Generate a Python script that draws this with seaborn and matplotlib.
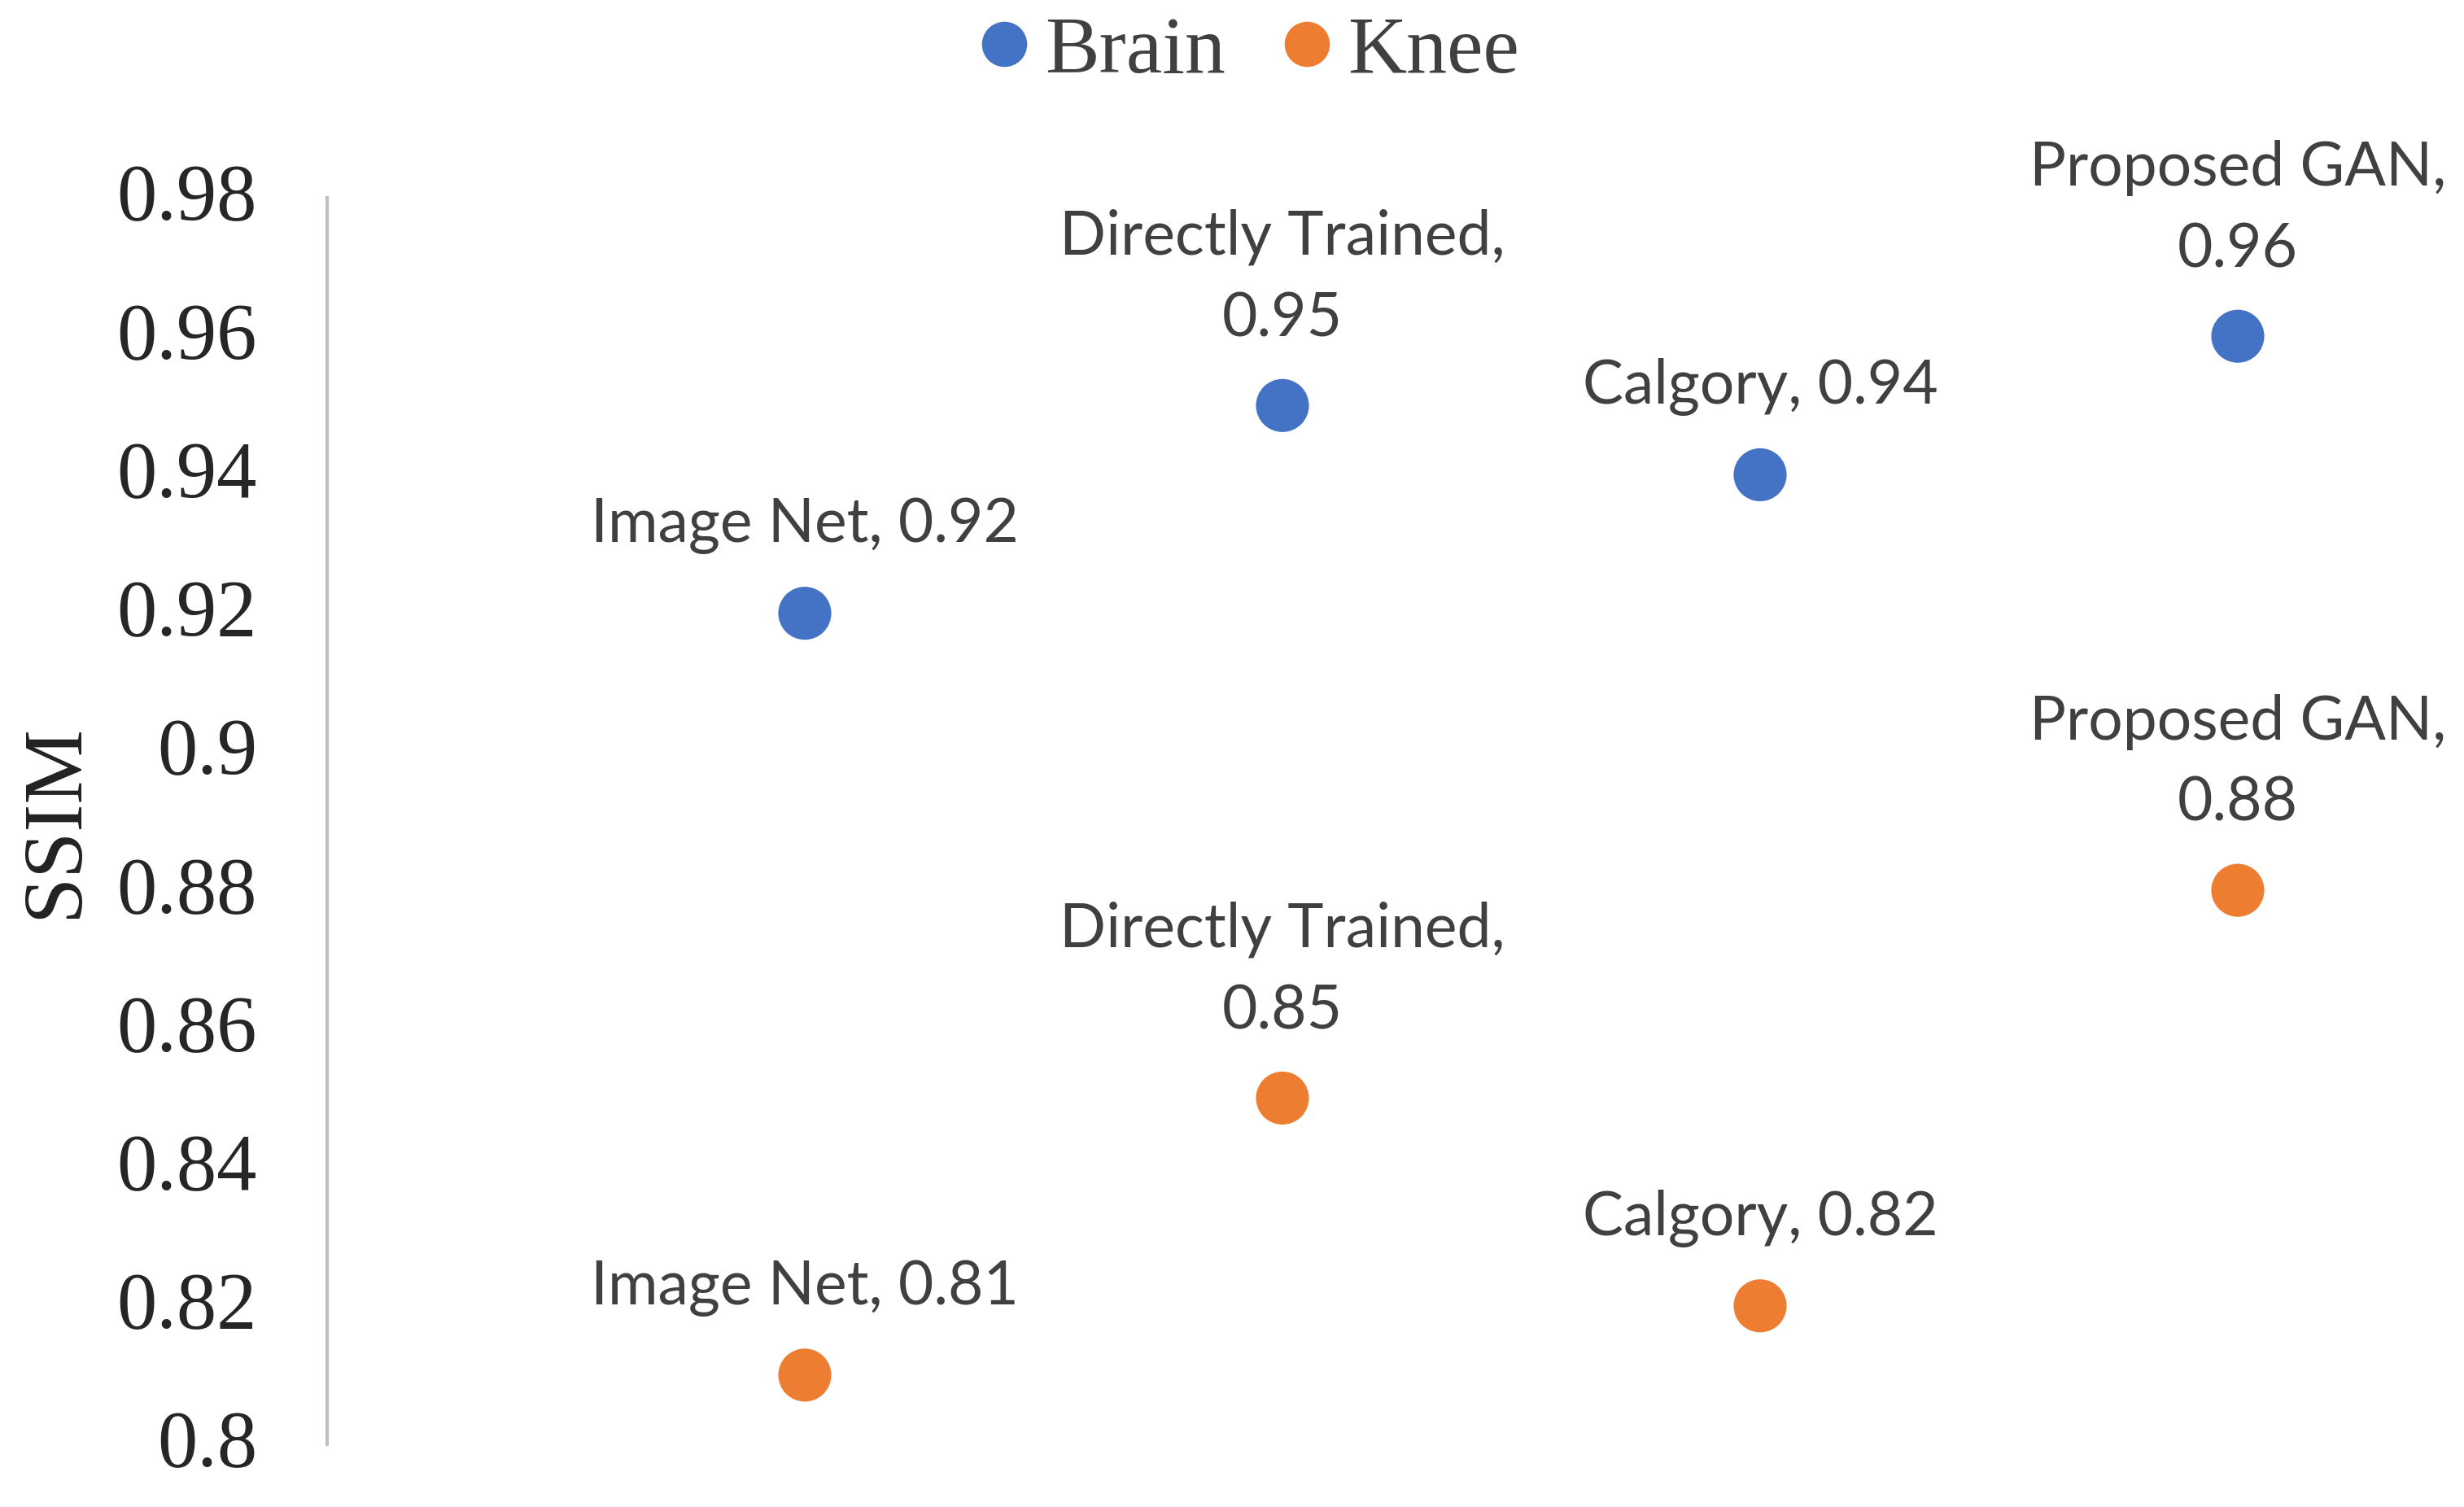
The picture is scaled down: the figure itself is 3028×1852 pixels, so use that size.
import matplotlib
matplotlib.use("Agg")
import matplotlib.pyplot as plt
import matplotlib.transforms as mtransforms
import seaborn as sns
import pandas as pd

categories = ["Image Net", "Directly Trained", "Calgory", "Proposed GAN"]
x_pos = [1, 2, 3, 4]
brain = [0.92, 0.95, 0.94, 0.96]
knee = [0.81, 0.85, 0.82, 0.88]
series = ["Brain", "Knee"]
colors = ["#4472C4", "#ED7D31"]
y_ticks = [0.8, 0.82, 0.84, 0.86, 0.88, 0.9, 0.92, 0.94, 0.96, 0.98]
y_tick_labels = ["0.8", "0.82", "0.84", "0.86", "0.88", "0.9", "0.92", "0.94", "0.96", "0.98"]

rows = []
for s, vals in zip(series, [brain, knee]):
    for c, x, v in zip(categories, x_pos, vals):
        rows.append({"Category": c, "x": x, "SSIM": v, "Series": s})
df = pd.DataFrame(rows)

sns.set_theme(style="white")
W, H = 3028, 1852
fig = plt.figure(figsize=(W / 100, H / 100), dpi=100)
ax = fig.add_axes([402 / W, 1 - 1775 / H, 1 - 402 / W, (1775 - 243) / H])

sns.scatterplot(data=df, x="x", y="SSIM", hue="Series", palette=colors,
                s=2200, edgecolor="none", ax=ax, legend=True, clip_on=False, zorder=3)

ax.set_xlim(0, (W - 402) / 587)
ax.set_ylim(0.8, 0.98)
ax.set_yticks(y_ticks)
ax.set_yticklabels(y_tick_labels, fontfamily="Liberation Serif", fontsize=71)
ax.tick_params(axis="y", length=0, pad=62)
shift = mtransforms.ScaledTranslation(0, 5 / 72, fig.dpi_scale_trans)
for lab in ax.get_yticklabels():
    lab.set_transform(lab.get_transform() + shift)
ax.set_xticks([])
ax.set_xlabel("")
ax.set_ylabel("SSIM", fontfamily="Liberation Serif", fontsize=74, color="#222222")
ax.yaxis.set_label_coords(-(402 - 116) / (W - 402), 0.5)

for sp in ["top", "right", "bottom"]:
    ax.spines[sp].set_visible(False)
ax.spines["left"].set_color("#BFBFBF")
ax.spines["left"].set_linewidth(3)

two_line = {"Directly Trained", "Proposed GAN"}
for vals in [brain, knee]:
    for c, x, v in zip(categories, x_pos, vals):
        if c in two_line:
            txt = f"{c},\n{v:g}"
        else:
            txt = f"{c}, {v:g}"
        ax.annotate(txt, (x, v), xytext=(0, 52), textcoords="offset points",
                    ha="center", va="bottom", fontsize=54, family="Lato",
                    color="#404040", linespacing=1.55)

handles, labels = ax.get_legend_handles_labels()
ax.legend(handles, labels, loc="center", bbox_to_anchor=(1538 / W, 1 - 64 / H),
          bbox_transform=fig.transFigure, ncol=2, frameon=False,
          prop={"family": "Liberation Serif", "size": 72},
          handlelength=0.5, handletextpad=0.25, columnspacing=0.75,
          labelcolor="#404040")
leg = ax.get_legend()
for h in leg.legend_handles:
    try:
        h.set_markersize(40)
    except AttributeError:
        h.set_sizes([1600])

fig.savefig("out.png", dpi=100, facecolor="white")
